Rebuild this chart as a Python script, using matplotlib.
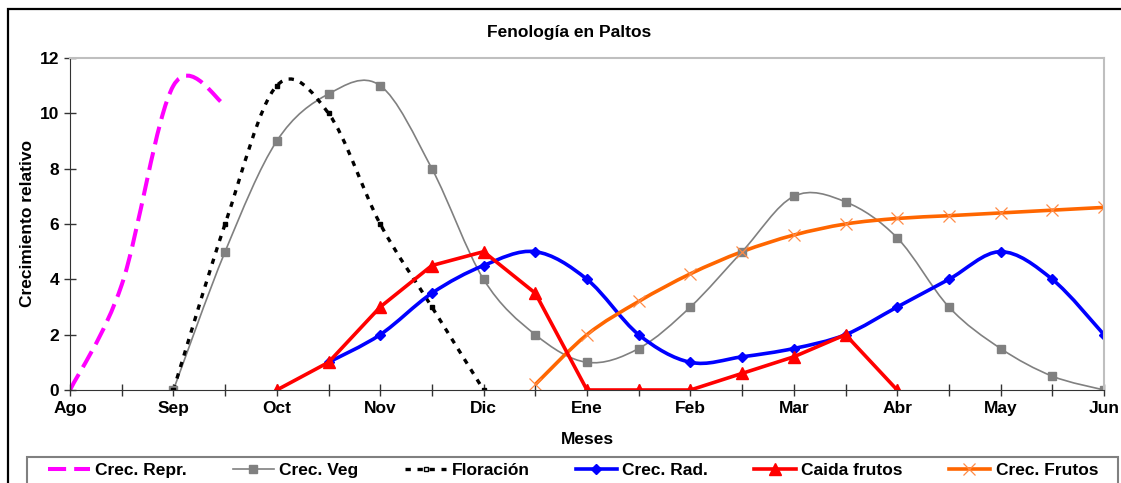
#plot.py
#
#Fenologia en Paltos: relative growth of the avocado organs along the season
#(half-month steps from August to June), Excel-like smoothed lines.

import numpy as np
import matplotlib
matplotlib.use('Agg')
import matplotlib.pyplot as plt
from matplotlib.path import Path
from matplotlib.patches import PathPatch, Rectangle
from matplotlib.lines import Line2D

#==================================================================================================
#			DATA
#==================================================================================================
#Month labels (one tick every half month)
meses = ['Ago','Sep','Oct','Nov','Dic','Ene','Feb','Mar','Abr','May','Jun']

#Crec. Repr.
x_repr = [0, 1, 2, 3]
y_repr = [0, 3.8, 11.0, 10.3]
#Crec. Veg
x_veg = list(range(2, 21))
y_veg = [0, 5, 9, 10.7, 11, 8, 4, 2, 1, 1.5, 3, 5, 7, 6.8, 5.5, 3, 1.5, 0.5, 0]
#Floracion
x_flor = list(range(2, 9))
y_flor = [0, 6, 11, 10, 6, 3, 0]
#Crec. Rad.
x_rad = list(range(5, 21))
y_rad = [1, 2, 3.5, 4.5, 5, 4, 2, 1, 1.2, 1.5, 2, 3, 4, 5, 4, 2]
#Caida frutos
x_caida = list(range(4, 17))
y_caida = [0, 1, 3, 4.5, 5, 3.5, 0, 0, 0, 0.6, 1.2, 2, 0]
#Crec. Frutos
x_frutos = list(range(9, 21))
y_frutos = [0.2, 2, 3.2, 4.2, 5, 5.6, 6, 6.2, 6.3, 6.4, 6.5, 6.6]

#==================================================================================================
#			STYLE
#==================================================================================================
plt.rcParams['font.family'] = ['Liberation Sans', 'DejaVu Sans']
plt.rcParams['font.weight'] = 'bold'

c_repr = '#FF00FF'
c_veg = '#808080'
c_flor = '#000000'
c_rad = '#0000FF'
c_caida = '#FF0000'
c_frutos = '#FF6600'

def smooth( x, y ):
    #Smoothed line as in Excel: Catmull-Rom segments written as cubic Bezier curves
    p = np.column_stack( [x, y] ).astype(float)
    q = np.vstack( [p[0], p, p[-1]] )
    verts = [p[0]]
    codes = [Path.MOVETO]
    for i in range( len(p)-1 ):
        p0, p1, p2, p3 = q[i], q[i+1], q[i+2], q[i+3]
        verts += [p1 + (p2-p0)/6.0, p2 - (p3-p1)/6.0, p2]
        codes += [Path.CURVE4]*3
    return Path( verts, codes )

#==================================================================================================
#			PLOT
#==================================================================================================
fig = plt.figure( figsize=(11.21,4.83), dpi=100 )
ax = fig.add_axes( [70/1121., 1-390/483., 1034/1121., 332/483.] )

#Crec. Repr.
ax.add_patch( PathPatch( smooth( x_repr, y_repr ), fill=False, ec=c_repr, lw=2.9, ls=(0,(4.5,2.0)), capstyle='butt' ) )
#Crec. Veg
ax.add_patch( PathPatch( smooth( x_veg, y_veg ), fill=False, ec=c_veg, lw=1.2 ) )
ax.plot( x_veg, y_veg, ls='none', marker='s', ms=5.5, color=c_veg )
#Floracion
ax.add_patch( PathPatch( smooth( x_flor, y_flor ), fill=False, ec=c_flor, lw=2.4, ls=(0,(1.6,2.0)), capstyle='butt' ) )
ax.plot( x_flor, y_flor, ls='none', marker='s', ms=3, color=c_flor )
#Crec. Rad.
ax.add_patch( PathPatch( smooth( x_rad, y_rad ), fill=False, ec=c_rad, lw=2.6 ) )
ax.plot( x_rad, y_rad, ls='none', marker='D', ms=5, color=c_rad )
#Caida frutos (straight segments)
ax.plot( x_caida, y_caida, ls='-', lw=2.6, marker='^', ms=8.5, color=c_caida )
#Crec. Frutos
ax.add_patch( PathPatch( smooth( x_frutos, y_frutos ), fill=False, ec=c_frutos, lw=2.6 ) )
ax.plot( x_frutos, y_frutos, ls='none', marker='x', ms=9, mew=0.9, color='#FF8A45' )

#Axes
ax.set_xlim( (0,20) )
ax.set_ylim( (0,12) )
ax.set_xticks( range(0,21) )
ax.set_xticklabels( [meses[i//2] if i%2 == 0 else '' for i in range(21)] )
ax.set_yticks( range(0,13,2) )
ax.tick_params( axis='both', direction='inout', length=8, width=1, color='#333333', labelsize=12.5, pad=4 )
for side in ['left','bottom']:
    ax.spines[side].set_color( '#333333' )
for side in ['top','right']:
    ax.spines[side].set_color( '#BFBFBF' )
    ax.spines[side].set_linewidth( 1.5 )

ax.set_xlabel( 'Meses', fontsize=12.5, fontweight='bold' )
ax.xaxis.set_label_coords( 0.5, -0.128 )
ax.set_ylabel( 'Crecimiento relativo', fontsize=12.5, fontweight='bold' )
ax.yaxis.set_label_coords( -0.034, 0.5 )

fig.text( 569/1121., 1-33/483., u'Fenolog\u00eda en Paltos', ha='center', va='center', fontsize=12.5, fontweight='bold' )

#Legend (entries spread inside a separate grey frame)
handles = [
    Line2D( [], [], color=c_repr, lw=2.9, ls=(0,(4.5,2.0)) ),
    Line2D( [], [], color=c_veg, lw=1.2, marker='s', ms=5.5 ),
    Line2D( [], [], color=c_flor, lw=2.4, ls=(0,(1.6,2.0)), marker='s', ms=3, mfc='white' ),
    Line2D( [], [], color=c_rad, lw=2.6, marker='D', ms=5 ),
    Line2D( [], [], color=c_caida, lw=2.6, marker='^', ms=8.5 ),
    Line2D( [], [], color=c_frutos, lw=2.6, marker='x', ms=9, mew=0.9, mec='#FF8A45' ),
]
labels = ['Crec. Repr.', 'Crec. Veg', u'Floraci\u00f3n', 'Crec. Rad.', 'Caida frutos', 'Crec. Frutos']
leg = fig.legend( handles, labels, loc='center left', bbox_to_anchor=(48/1121., 1-470/483., 1050/1121., 0),
                  mode='expand', ncol=6, fontsize=12.5, frameon=False, handlelength=2.4,
                  handletextpad=0.3, borderpad=0, borderaxespad=0 )
fig.patches.append( Rectangle( (27/1121., -0.1), 1091/1121., 0.1+1-457/483., transform=fig.transFigure,
                               fill=False, ec='#808080', lw=1.5 ) )

#Outer chart border
fig.patches.append( Rectangle( (8/1121., -0.5), 1.5, 0.5+1-9/483., transform=fig.transFigure,
                               fill=False, ec='black', lw=1.6 ) )

plt.savefig( 'out.png', dpi=100 )
